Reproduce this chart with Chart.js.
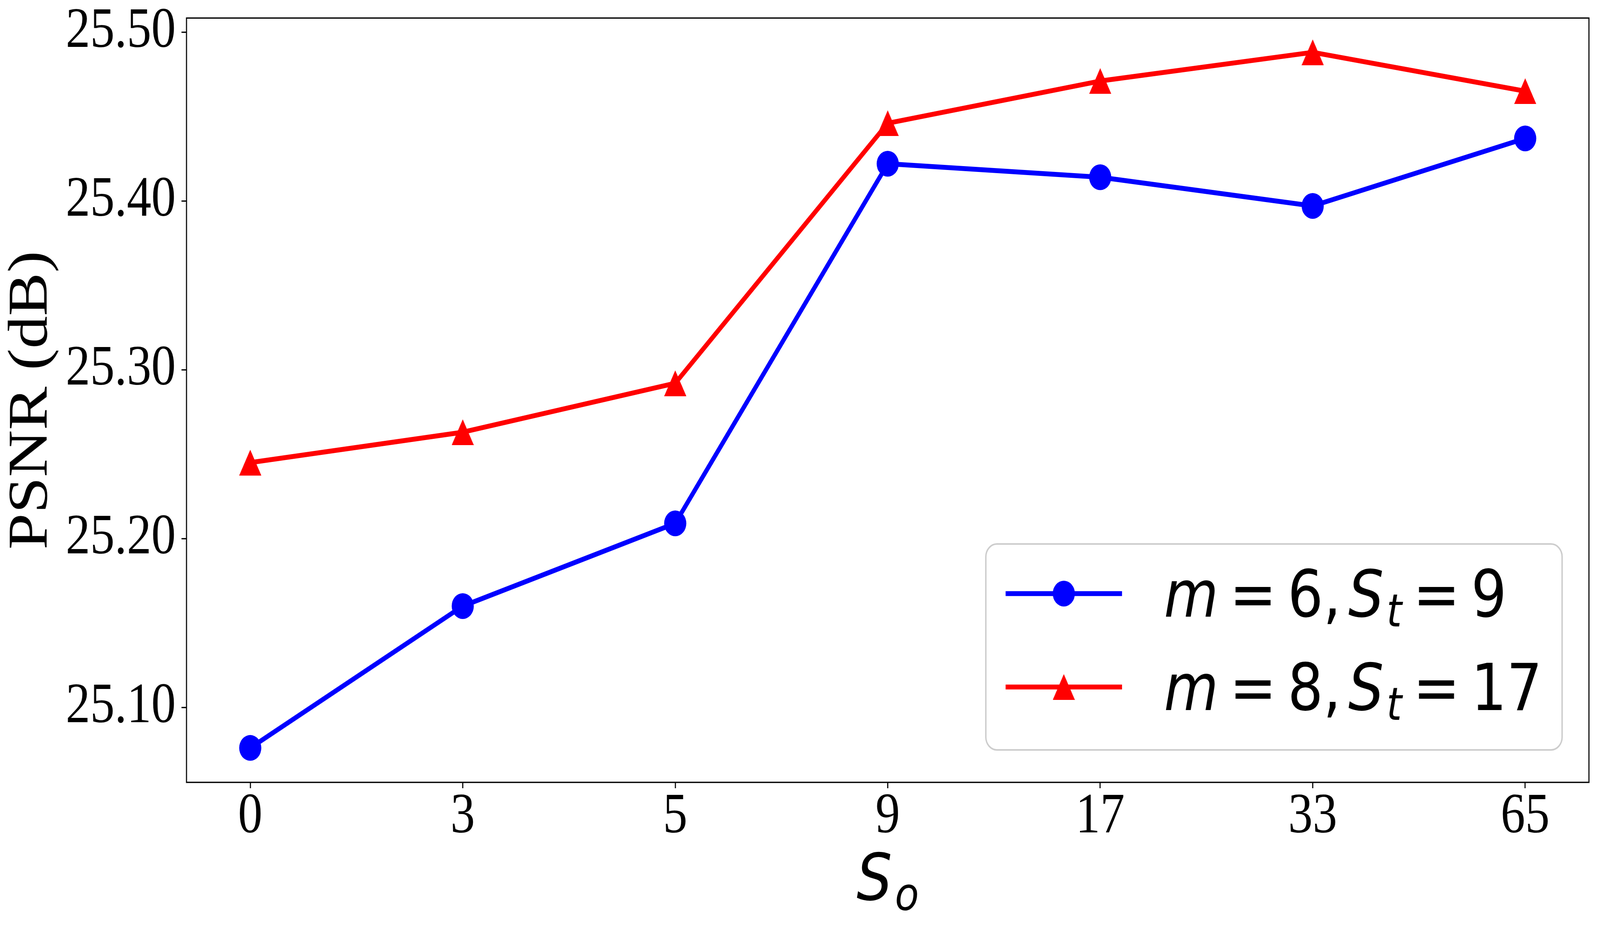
<!DOCTYPE html>
<html>
<head>
<meta charset="utf-8">
<script src="https://cdn.jsdelivr.net/npm/chart.js@4.4.1/dist/chart.umd.min.js"></script>
<style>
  html, body { margin: 0; padding: 0; background: #fff; overflow: hidden; }
  /* the chart is laid out in 4770x2367 figure pixels, then fitted to the window */
  canvas { display: block; width: 100vw !important; height: 100vh !important; }
</style>
</head>
<body>
<canvas id="psnrChart" width="4770" height="2367"></canvas>
<script>
// values
const categories = ['0', '3', '5', '9', '17', '33', '65'];
const psnrM6 = [25.076, 25.160, 25.209, 25.422, 25.414, 25.397, 25.437];
const psnrM8 = [25.245, 25.263, 25.292, 25.446, 25.471, 25.488, 25.465];
const yTicks = [25.10, 25.20, 25.30, 25.40, 25.50];
const seriesLabels = ['m = 6, S_t = 9', 'm = 8, S_t = 17'];
const xTitle = 'S_o';
const yTitle = 'PSNR (dB)';

const BLUE = '#0000ff';
const RED = '#ff0000';
const SERIF = '"Liberation Serif", "Times New Roman", serif';
const MATH = '"DejaVu Sans"';
const MATH_SIZE = 166.7;

// matplotlib-style '^' marker: 66x66 box centred on the point
function triangleMarker(size, color) {
  const c = document.createElement('canvas');
  c.width = size; c.height = size;
  const g = c.getContext('2d');
  g.fillStyle = color;
  g.beginPath();
  g.moveTo(size / 2, 0);
  g.lineTo(size, size);
  g.lineTo(0, size);
  g.closePath();
  g.fill();
  return c;
}
const triImg = triangleMarker(66, RED);

// tiny mathtext: letters italic, digits/punct upright, '_' = subscript
function layoutMath(ctx, str, size) {
  const items = [];
  let x = 0;
  for (let i = 0; i < str.length; i++) {
    let ch = str[i];
    if (ch === ' ') continue;
    let sub = false;
    if (ch === '_') { sub = true; ch = str[++i]; x += size * 0.05; }
    const italic = /[a-zA-Z]/.test(ch);
    const fs = sub ? size * 0.7 : size;
    const font = (italic ? 'italic ' : '') + fs + 'px ' + MATH;
    ctx.font = font;
    if (ch === '=') x += size * 0.2;
    const w = ctx.measureText(ch).width;
    items.push({ ch, x, font, dy: sub ? size * 0.15 : 0 });
    x += w;
    if (ch === '=') x += size * 0.2;
    if (ch === ',') x += size * 0.13;
  }
  return { items, width: x };
}

function drawMath(ctx, str, x, y, size, align) {
  const lay = layoutMath(ctx, str, size);
  const x0 = align === 'center' ? x - lay.width / 2 : x;
  ctx.fillStyle = '#000';
  ctx.textAlign = 'left';
  ctx.textBaseline = 'alphabetic';
  lay.items.forEach(it => {
    ctx.font = it.font;
    ctx.fillText(it.ch, x0 + it.x, y + it.dy);
  });
}

function roundRect(ctx, x, y, w, h, r) {
  ctx.beginPath();
  ctx.moveTo(x + r, y);
  ctx.arcTo(x + w, y, x + w, y + h, r);
  ctx.arcTo(x + w, y + h, x, y + h, r);
  ctx.arcTo(x, y + h, x, y, r);
  ctx.arcTo(x, y, x + w, y, r);
  ctx.closePath();
}

const framePlugin = {
  id: 'frameAndLegend',
  afterDraw(chart) {
    const ctx = chart.ctx;
    const a = chart.chartArea;
    ctx.save();
    // box spines
    ctx.strokeStyle = '#000';
    ctx.lineWidth = 3.33;
    ctx.strokeRect(a.left, a.top, a.right - a.left, a.bottom - a.top);

    // x axis label
    drawMath(ctx, xTitle, (a.left + a.right) / 2, 2303, MATH_SIZE, 'center');

    // legend
    const lx = 2939, ly = 1392, lw = 1718, lh = 527;
    roundRect(ctx, lx, ly, lw, lh, 33);
    ctx.fillStyle = 'rgba(255,255,255,0.8)';
    ctx.fill();
    ctx.strokeStyle = '#cccccc';
    ctx.lineWidth = 4.2;
    ctx.stroke();

    const rows = [1519, 1758];
    chart.data.datasets.forEach((ds, i) => {
      const ry = rows[i];
      ctx.strokeStyle = ds.borderColor;
      ctx.lineWidth = ds.borderWidth;
      ctx.lineCap = 'butt';
      ctx.beginPath();
      ctx.moveTo(2998, ry);
      ctx.lineTo(3345, ry);
      ctx.stroke();
      const mx = (2998 + 3345) / 2;
      if (ds.pointStyle === 'circle') {
        ctx.fillStyle = ds.pointBackgroundColor;
        ctx.beginPath();
        ctx.arc(mx, ry, ds.pointRadius, 0, Math.PI * 2);
        ctx.fill();
      } else {
        ctx.drawImage(ds.pointStyle, mx - 33, ry - 33);
      }
      drawMath(ctx, ds.label, 3470, ry + 59, MATH_SIZE, 'left');
    });
    ctx.restore();
  }
};

Chart.defaults.color = '#000';

new Chart(document.getElementById('psnrChart'), {
  type: 'line',
  data: {
    datasets: [
      {
        label: seriesLabels[0],
        data: psnrM6.map((v, i) => ({ x: i, y: v })),
        borderColor: BLUE,
        backgroundColor: BLUE,
        borderWidth: 12.5,
        borderJoinStyle: 'round',
        borderCapStyle: 'square',
        pointStyle: 'circle',
        pointRadius: 33,
        pointBorderWidth: 0,
        pointBackgroundColor: BLUE,
        tension: 0,
        clip: false,
        order: 1
      },
      {
        label: seriesLabels[1],
        data: psnrM8.map((v, i) => ({ x: i, y: v })),
        borderColor: RED,
        backgroundColor: RED,
        borderWidth: 12.5,
        borderJoinStyle: 'round',
        borderCapStyle: 'square',
        pointStyle: triImg,
        pointRadius: 33,
        pointBorderWidth: 0,
        pointBackgroundColor: RED,
        tension: 0,
        clip: false,
        order: 0
      }
    ]
  },
  options: {
    responsive: false,
    animation: false,
    devicePixelRatio: 1,
    layout: { padding: { top: 45, right: 30, left: 0, bottom: 0 } },
    plugins: { legend: { display: false }, tooltip: { enabled: false } },
    scales: {
      x: {
        type: 'linear',
        min: -0.3,
        max: 6.3,
        afterBuildTicks: s => { s.ticks = categories.map((c, i) => ({ value: i })); },
        afterFit: s => { s.height = 365; },
        border: { display: false },
        grid: { drawOnChartArea: false, drawTicks: true, tickLength: 15, tickWidth: 3.33, tickColor: '#000' },
        ticks: {
          padding: 13,
          maxRotation: 0,
          autoSkip: false,
          font: { family: SERIF, size: 145.8, lineHeight: 0.85 },
          callback: v => categories[v]
        }
      },
      y: {
        type: 'linear',
        min: 25.0556,
        max: 25.5083,
        afterBuildTicks: s => { s.ticks = yTicks.map(v => ({ value: v })); },
        afterFit: s => { s.width = 556; },
        border: { display: false },
        grid: { drawOnChartArea: false, drawTicks: true, tickLength: 15, tickWidth: 3.33, tickColor: '#000' },
        ticks: {
          padding: 17,
          font: { family: SERIF, size: 145.8, lineHeight: 0.4 },
          callback: v => v.toFixed(2)
        },
        title: {
          display: true,
          text: yTitle,
          font: { family: SERIF, size: 166.7, lineHeight: 1 },
          padding: { top: 12, bottom: 0 }
        }
      }
    }
  },
  plugins: [framePlugin]
});
</script>
</body>
</html>
